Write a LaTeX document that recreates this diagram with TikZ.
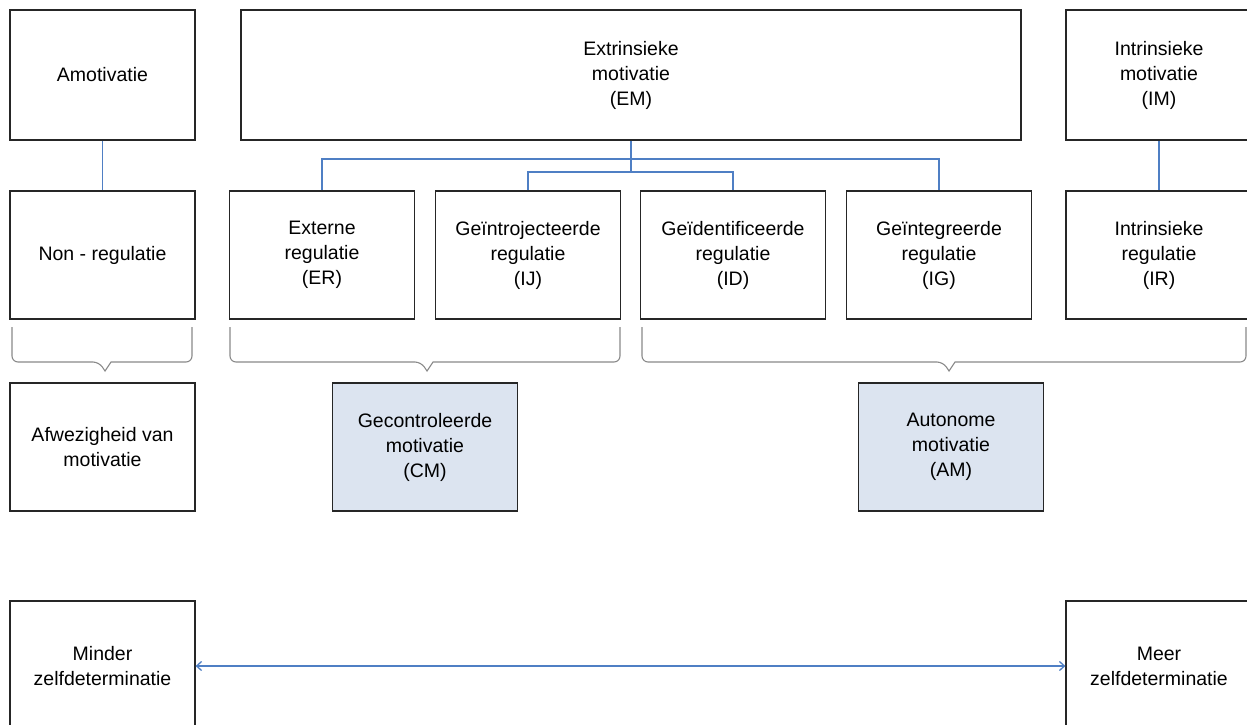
\documentclass[tikz,border=0pt]{standalone}
\usepackage{fontspec}
\setmainfont{Liberation Sans}
\usetikzlibrary{arrows.meta}
\definecolor{conn}{HTML}{4F7FC4}
\definecolor{brc}{HTML}{8A8A8A}
\definecolor{shade}{HTML}{DCE4F0}
\tikzset{
  box/.style={draw=black!85, line width=1.2pt, fill=white, minimum width=185pt, minimum height=128pt,
    align=center, inner sep=2pt, font=\fontsize{19.5}{25}\selectfont},
  shadebox/.style={box, fill=shade},
  conline/.style={draw=conn, line width=1.3pt},
  bracel/.style={draw=brc, line width=1.1pt, rounded corners=6pt},
}
\begin{document}
\begin{tikzpicture}[x=1pt,y=-1pt]
\fill[white] (0,0) rectangle (1247,724);
\useasboundingbox (0,0) rectangle (1247,724);
\clip (0,0) rectangle (1247,724);
% top row
\node[box, minimum height=130pt] (am) at (102.5,75) {Amotivatie};
\node[box, minimum width=780pt, minimum height=130pt] (em) at (631,75) {Extrinsieke\\motivatie\\(EM)};
\node[box, minimum width=186pt, minimum height=130pt] (im) at (1159,75) {Intrinsieke\\motivatie\\(IM)};
% second row
\node[box] (nr) at (102.5,255) {Non - regulatie};
\node[box] (er) at (322,255) {Externe\\regulatie\\(ER)};
\node[box] (ij) at (528,255) {Geïntrojecteerde\\regulatie\\(IJ)};
\node[box] (id) at (733,255) {Geïdentificeerde\\regulatie\\(ID)};
\node[box] (ig) at (939,255) {Geïntegreerde\\regulatie\\(IG)};
\node[box, minimum width=186pt] (ir) at (1159,255) {Intrinsieke\\regulatie\\(IR)};
% third row
\node[box] (af) at (102.5,447) {Afwezigheid van\\motivatie};
\node[shadebox] (cm) at (425,447) {Gecontroleerde\\motivatie\\(CM)};
\node[shadebox] (amot) at (951,447) {Autonome\\motivatie\\(AM)};
% bottom row
\node[box, minimum height=130pt] (mi) at (102.5,666) {Minder\\zelfdeterminatie};
\node[box, minimum width=186pt, minimum height=130pt] (me) at (1159,666) {Meer\\zelfdeterminatie};
% connectors
\coordinate (j1) at (631,159);
\coordinate (j2) at (631,172);
\draw[conline] (em.south) -- (j2);
\draw[conline] (er.north) |- (j1) -| (ig.north);
\draw[conline] (ij.north) |- (j2) -| (id.north);
\draw[conline] (am.south) -- (nr.north);
\draw[conline] (im.south) -- (ir.north);
\draw[conline, {Straight Barb[length=5pt,width=9pt]}-{Straight Barb[length=5pt,width=9pt]}] (mi.east) -- (me.west);
% braces
\draw[bracel] (12,327) -- (12,362) -- (99,362) [sharp corners] -- (105,371) -- (111,362) [rounded corners=6pt] -- (192,362) -- (192,327);
\draw[bracel] (230,327) -- (230,362) -- (421,362) [sharp corners] -- (427,371) -- (433,362) [rounded corners=6pt] -- (620,362) -- (620,327);
\draw[bracel] (642,327) -- (642,362) -- (943,362) [sharp corners] -- (949,371) -- (955,362) [rounded corners=6pt] -- (1246,362) -- (1246,327);
\end{tikzpicture}
\end{document}
